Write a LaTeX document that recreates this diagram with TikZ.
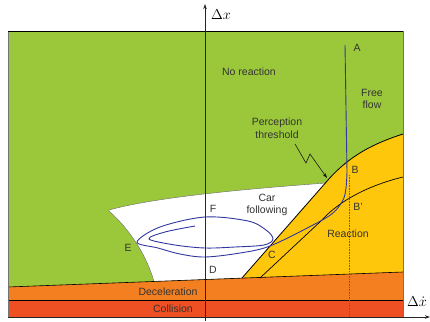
\documentclass[tikz,border=0pt]{standalone}
\usepackage{fontspec}
\setmainfont{Liberation Sans}
\usetikzlibrary{arrows.meta}
\definecolor{cgreen}{RGB}{155,200,59}
\definecolor{cyellow}{RGB}{255,199,12}
\definecolor{corange}{RGB}{243,127,33}
\definecolor{cred}{RGB}{238,80,35}
\definecolor{ctraj}{RGB}{50,55,160}
\definecolor{cdot}{RGB}{150,80,30}
\begin{document}
\begin{tikzpicture}[x=1pt,y=-1pt,
  lbl/.style={font=\fontsize{10.5}{12.5}\selectfont, text=black!80, align=center, inner sep=0pt},
  axlbl/.style={font=\fontsize{14.5}{16}\selectfont, inner sep=0pt},
  bound/.style={black, line width=0.8pt},
  traj/.style={ctraj, line width=0.9pt},
  ax/.style={black!85, line width=0.9pt, -{Stealth[length=5pt,width=3.5pt]}}]
\useasboundingbox (0,0) rectangle (430,321);
% regions
\fill[cgreen] (8,31) rectangle (403,300);
\fill[white] (109,210) .. controls (160,196) and (260,188) .. (326,183) -- (242,278) -- (154,281.5) .. controls (145,250) and (125,225) .. (109,211) -- cycle;
\fill[cyellow] (242,278) -- (328,180) .. controls (350,155) and (375,143) .. (403,134) -- (403,273) -- cycle;
\fill[corange] (8,287) -- (403,272) -- (403,300) -- (8,300) -- cycle;
\fill[cred] (8,300) rectangle (403,317);
% boundaries
\draw[black!60, line width=0.4pt] (326,183) .. controls (260,188) and (160,196) .. (109,210) -- (109,211) .. controls (125,225) and (145,250) .. (154,281.5);
\draw[black, line width=0.6pt] (8,287) -- (403,272);
\draw[black, line width=0.6pt] (8,300) -- (403,300);
\draw[bound] (242,278) -- (328,180) .. controls (350,155) and (375,143) .. (403,134);
\draw[black, line width=0.7pt] (260,278) -- (322,220) .. controls (340,200) and (370,185) .. (403,177);
\draw[black!55, line width=0.8pt] (8,31) -- (8,317);
\draw[black!55, line width=0.8pt] (403,31) -- (403,317);
\draw[black, line width=0.8pt] (8,31) -- (403,31);
% dotted
\draw[cdot, densely dotted, line width=0.6pt] (349,175) -- (349,317);
% trajectory
\coordinate (A0) at (345,45);
\coordinate (A1) at (347,172);
\draw[traj] (A0) -- (A1);
\draw[traj] plot[smooth, tension=0.55] coordinates {(347,172) (346,188) (343,200) (333,213) (313,225) (270,246) (240,253) (205,257) (180,254) (158,248) (137,242) (160,227) (205,217) (248,221) (266,230) (273,239) (264,245) (235,247) (205,248) (175,245) (149,239) (165,232) (195,226)};
% zigzag arrow
\draw[black!90, line width=0.6pt, -{Stealth[length=5pt,width=3.5pt]}] (295,144) -- (306,163) -- (310,154) -- (327,178);
% axes
\draw[ax] (205,321) -- (205,4);
\draw[ax] (8,317) -- (430,317);
\node[axlbl] (dx) at (221,15) {$\Delta x$};
\node[axlbl] (dxd) at (417,302) {$\Delta\dot{x}$};
% labels
\node[lbl] (nr) at (249,72) {No reaction};
\node[lbl] (ff) at (372,99) {Free\\flow};
\node[lbl] (pt) at (277,128) {Perception\\threshold};
\node[lbl] (A) at (357,48) {A};
\node[lbl] (B) at (355,170) {B};
\node[lbl] (Bp) at (358,207) {B'};
\node[lbl] (re) at (348,234) {Reaction};
\node[lbl] (cf) at (267,205) {Car\\following};
\node[lbl] (F) at (213,209) {F};
\node[lbl] (E) at (128,248) {E};
\node[lbl] (D) at (213,270) {D};
\node[lbl] (C) at (272,255) {C};
\node[lbl] (de) at (168,292) {Deceleration};
\node[lbl] (co) at (173,309) {Collision};
\end{tikzpicture}
\end{document}
